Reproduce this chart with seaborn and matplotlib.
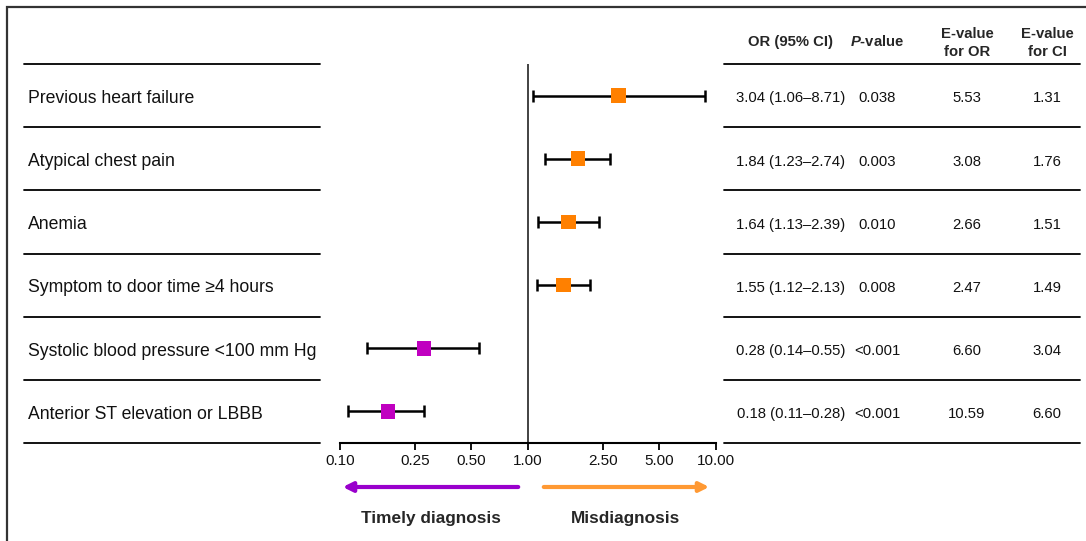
import numpy as np
import pandas as pd
import matplotlib
matplotlib.use("Agg")
import matplotlib.pyplot as plt
import matplotlib.transforms as mtransforms
from matplotlib.patches import FancyArrowPatch, Rectangle
import seaborn as sns

# data
factors = ["Previous heart failure", "Atypical chest pain", "Anemia",
           "Symptom to door time \u22654 hours", "Systolic blood pressure <100 mm Hg",
           "Anterior ST elevation or LBBB"]
odds = [3.04, 1.84, 1.64, 1.55, 0.28, 0.18]
ci_low = [1.06, 1.23, 1.13, 1.12, 0.14, 0.11]
ci_high = [8.71, 2.74, 2.39, 2.13, 0.55, 0.28]
p_values = ["0.038", "0.003", "0.010", "0.008", "<0.001", "<0.001"]
e_or = ["5.53", "3.08", "2.66", "2.47", "6.60", "10.59"]
e_ci = ["1.31", "1.76", "1.51", "1.49", "3.04", "6.60"]
tick_vals = [0.10, 0.25, 0.50, 1.00, 2.50, 5.00, 10.00]

sns.set_style("white")
plt.rcParams['font.family'] = ['Liberation Sans', 'DejaVu Sans']
plt.rcParams['mathtext.fontset'] = 'custom'
plt.rcParams['mathtext.it'] = 'Liberation Sans:italic:bold'
plt.rcParams['mathtext.rm'] = 'Liberation Sans:bold'

df = pd.DataFrame({
    'factor': factors, 'odds': odds, 'low': ci_low, 'high': ci_high,
    'row': np.arange(len(factors)),
})
df['side'] = np.where(df['odds'] > 1, 'mis', 'timely')

W, H = 1086, 541
fig = plt.figure(figsize=(W / 100, H / 100), dpi=100)

def fx(px):
    return px / W

def fy(py):
    return 1 - py / H

ax = fig.add_axes([fx(340), fy(443), fx(716) - fx(340), (443 - 64) / H])
ax.set_xscale('log')
ax.set_xlim(0.1, 10)
ax.set_ylim(len(factors) - 0.5, -0.5)

# whiskers then squares
ax.errorbar(df['odds'], df['row'],
            xerr=[df['odds'] - df['low'], df['high'] - df['odds']],
            fmt='none', ecolor='black', elinewidth=1.8, capsize=4, capthick=1.8,
            zorder=2)
sns.scatterplot(data=df, x='odds', y='row', hue='side',
                palette={'mis': '#FF8000', 'timely': '#C000C0'},
                marker='s', s=110, linewidth=0, legend=False, zorder=3, ax=ax)
ax.axvline(1, color='#222222', lw=1.2, zorder=1)

ax.set_xticks(tick_vals)
ax.set_xticklabels([f"{v:.2f}" for v in tick_vals])
ax.xaxis.set_minor_locator(matplotlib.ticker.NullLocator())
ax.set_yticks([])
ax.set_xlabel('')
ax.set_ylabel('')
for s in ['top', 'left', 'right']:
    ax.spines[s].set_visible(False)
ax.spines['bottom'].set_color('black')
ax.spines['bottom'].set_linewidth(1.5)
ax.tick_params(axis='x', direction='out', length=5, width=1.3, color='black',
               labelsize=11, labelcolor='#111111', pad=3, bottom=True)
ax.patch.set_alpha(0)

# text columns: x in figure coords, y in data rows (nudged down a touch)
trans = mtransforms.blended_transform_factory(fig.transFigure, ax.transData)
for r, row in df.iterrows():
    ty = r + 0.045
    ax.text(fx(28), ty, row['factor'], transform=trans, ha='left', va='center',
            fontsize=12.7, color='#111111')
    ax.text(fx(791), ty, f"{row['odds']:.2f} ({row['low']:.2f}\u2013{row['high']:.2f})",
            transform=trans, ha='center', va='center', fontsize=10.7, color='#111111')
    ax.text(fx(877), ty, p_values[r], transform=trans, ha='center', va='center',
            fontsize=10.7, color='#111111')
    ax.text(fx(967), ty, e_or[r], transform=trans, ha='center', va='center',
            fontsize=10.7, color='#111111')
    ax.text(fx(1047), ty, e_ci[r], transform=trans, ha='center', va='center',
            fontsize=10.7, color='#111111')

# row separators
for yb in np.arange(-0.5, len(factors) + 0.5, 1.0):
    ax.plot([fx(24), fx(320)], [yb, yb], transform=trans, color='black',
            lw=1.3, clip_on=False)
    ax.plot([fx(724), fx(1080)], [yb, yb], transform=trans, color='black',
            lw=1.3, clip_on=False)

# header
fig.text(fx(791), fy(42), "OR (95% CI)", ha='center', va='center',
         fontsize=10.7, fontweight='bold')
fig.text(fx(877), fy(42), "$P$-value", ha='center', va='center',
         fontsize=10.7, fontweight='bold')
fig.text(fx(967), fy(43), "E-value\nfor OR", ha='center', va='center',
         fontsize=10.7, fontweight='bold', linespacing=1.45)
fig.text(fx(1047), fy(43), "E-value\nfor CI", ha='center', va='center',
         fontsize=10.7, fontweight='bold', linespacing=1.45)

# direction arrows
fig.add_artist(FancyArrowPatch((fx(521), fy(487)), (fx(340), fy(487)),
                               transform=fig.transFigure, arrowstyle='-|>',
                               mutation_scale=14, lw=3, color='#9900CC'))
fig.add_artist(FancyArrowPatch((fx(541), fy(487)), (fx(712), fy(487)),
                               transform=fig.transFigure, arrowstyle='-|>',
                               mutation_scale=14, lw=3, color='#FF9933'))
fig.text(fx(431), fy(518), "Timely diagnosis", ha='center', va='center',
         fontsize=12.4, fontweight='bold')
fig.text(fx(626), fy(518), "Misdiagnosis", ha='center', va='center',
         fontsize=12.4, fontweight='bold')

# outer frame (runs off the right and bottom edges)
fig.add_artist(Rectangle((fx(7), -0.2), 1.2, fy(7) + 0.2, transform=fig.transFigure,
                         fill=False, edgecolor='#333333', lw=1.6, clip_on=False))

fig.savefig("out.png", dpi=100)
